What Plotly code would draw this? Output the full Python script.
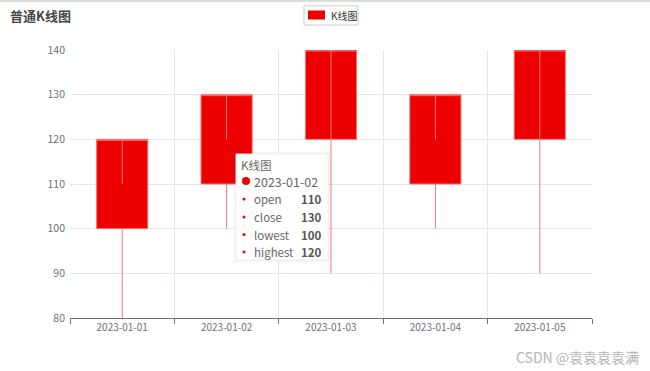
import plotly.graph_objects as go

# ---- data ----
dates = ["2023-01-01", "2023-01-02", "2023-01-03", "2023-01-04", "2023-01-05"]
open_vals = [100, 110, 120, 110, 120]
close_vals = [120, 130, 140, 130, 140]
lowest_vals = [80, 100, 90, 100, 90]
highest_vals = [110, 120, 120, 120, 120]
y_ticks = [80, 90, 100, 110, 120, 130, 140]
series_name = "K线图"
title_text = "普通K线图"
tip_index = 1
tip_labels = ["open", "close", "lowest", "highest"]
watermark = "CSDN @袁袁袁袁满"

# ---- geometry helpers ----
W, H = 650, 371
L, R, T, B = 70, 58, 50, 53
PW, PH = W - L - R, H - T - B


def px(x):
    return (x - L) / PW


def py(y):
    return (H - B - y) / PH


FONT = "Noto Sans CJK SC, Microsoft YaHei, sans-serif"
RED = "#ec0000"
WICK = "#f37777"
AXIS = "#6E7079"
GRID = "#E0E6F1"

fig = go.Figure(
    go.Candlestick(
        x=dates,
        open=open_vals,
        close=close_vals,
        low=lowest_vals,
        high=highest_vals,
        name=series_name,
        increasing=dict(line=dict(color=WICK, width=1), fillcolor=RED),
        decreasing=dict(line=dict(color=WICK, width=1), fillcolor=RED),
        whiskerwidth=0,
        showlegend=False,
        hoverinfo="skip",
    )
)

shapes = []
annotations = []

# top page border line
shapes.append(dict(type="rect", xref="paper", yref="paper", x0=px(0), x1=px(W),
                   y0=py(0), y1=py(2), fillcolor="#dcdcdc", line=dict(width=0)))

# legend (manual)
shapes.append(dict(type="rect", xref="paper", yref="paper", x0=px(304), x1=px(358),
                   y0=py(6), y1=py(25), fillcolor="white", line=dict(color="#cccccc", width=1)))
shapes.append(dict(type="rect", xref="paper", yref="paper", x0=px(308), x1=px(325),
                   y0=py(10.5), y1=py(19.5), fillcolor=RED, line=dict(width=0)))
annotations.append(dict(text=series_name, xref="paper", yref="paper", x=px(329), y=py(15.5),
                        xanchor="left", yanchor="middle", showarrow=False,
                        font=dict(size=10, color="#333", family=FONT)))

# title
annotations.append(dict(text="<b>" + title_text + "</b>", xref="paper", yref="paper",
                        x=px(8), y=py(16), xanchor="left", yanchor="middle", showarrow=False,
                        font=dict(size=13, color="#464646", family=FONT)))

# tooltip box
shapes.append(dict(type="rect", xref="paper", yref="paper", x0=px(234), x1=px(330),
                   y0=py(152), y1=py(262), fillcolor="rgba(0,0,0,0.04)", line=dict(width=0)))
shapes.append(dict(type="rect", xref="paper", yref="paper", x0=px(236), x1=px(328),
                   y0=py(154), y1=py(260), fillcolor="white", line=dict(color="#eeeeee", width=1)))
annotations.append(dict(text=series_name, xref="paper", yref="paper", x=px(239), y=py(165),
                        xanchor="left", yanchor="middle", showarrow=False,
                        font=dict(size=11.5, color="#666", family=FONT)))
shapes.append(dict(type="circle", xref="paper", yref="paper", x0=px(242), x1=px(250),
                   y0=py(177), y1=py(185), fillcolor=RED, line=dict(width=0)))
annotations.append(dict(text=dates[tip_index], xref="paper", yref="paper", x=px(252), y=py(181),
                        xanchor="left", yanchor="middle", showarrow=False,
                        font=dict(size=12.5, color="#666", family=FONT)))
tip_values = [open_vals[tip_index], close_vals[tip_index], lowest_vals[tip_index], highest_vals[tip_index]]
row_y = [199, 217, 234.5, 252]
for lab, val, yy in zip(tip_labels, tip_values, row_y):
    shapes.append(dict(type="circle", xref="paper", yref="paper", x0=px(242.5), x1=px(245.5),
                       y0=py(yy - 1.5), y1=py(yy + 1.5), fillcolor=RED, line=dict(width=0)))
    annotations.append(dict(text=lab, xref="paper", yref="paper", x=px(252), y=py(yy),
                            xanchor="left", yanchor="middle", showarrow=False,
                            font=dict(size=11.5, color="#666", family=FONT)))
    annotations.append(dict(text="<b>%d</b>" % val, xref="paper", yref="paper", x=px(324), y=py(yy),
                            xanchor="right", yanchor="middle", showarrow=False,
                            font=dict(size=11.5, color="#555", family=FONT)))

# watermark
annotations.append(dict(text=watermark, xref="paper", yref="paper", x=px(514), y=py(357),
                        xanchor="left", yanchor="middle", showarrow=False,
                        font=dict(size=14, color="#b4b4b4", family=FONT)))

fig.update_layout(
    width=W, height=H,
    margin=dict(l=L, r=R, t=T, b=B, pad=0),
    paper_bgcolor="white", plot_bgcolor="white",
    font=dict(family=FONT, size=11, color=AXIS),
    showlegend=False,
    shapes=shapes,
    annotations=annotations,
    xaxis=dict(
        type="category", range=[-0.5, len(dates) - 0.5],
        tickson="boundaries", ticks="outside", ticklen=5, tickcolor=AXIS,
        showline=True, linecolor=AXIS, linewidth=1,
        showgrid=True, gridcolor=GRID, gridwidth=1, zeroline=False,
        rangeslider=dict(visible=False),
        tickfont=dict(size=10, color=AXIS, family=FONT),
        fixedrange=True,
    ),
    yaxis=dict(
        range=[y_ticks[0], y_ticks[-1]], tickvals=y_ticks,
        showgrid=True, gridcolor=GRID, gridwidth=1, zeroline=False, showline=False,
        ticks="", ticklabelstandoff=4,
        tickfont=dict(size=10.5, color=AXIS, family=FONT),
        fixedrange=True,
    ),
)

fig.write_html(
    "out.html",
    config={"displayModeBar": False},
    post_script="document.body.style.margin='0';document.body.style.overflow='hidden';",
)
